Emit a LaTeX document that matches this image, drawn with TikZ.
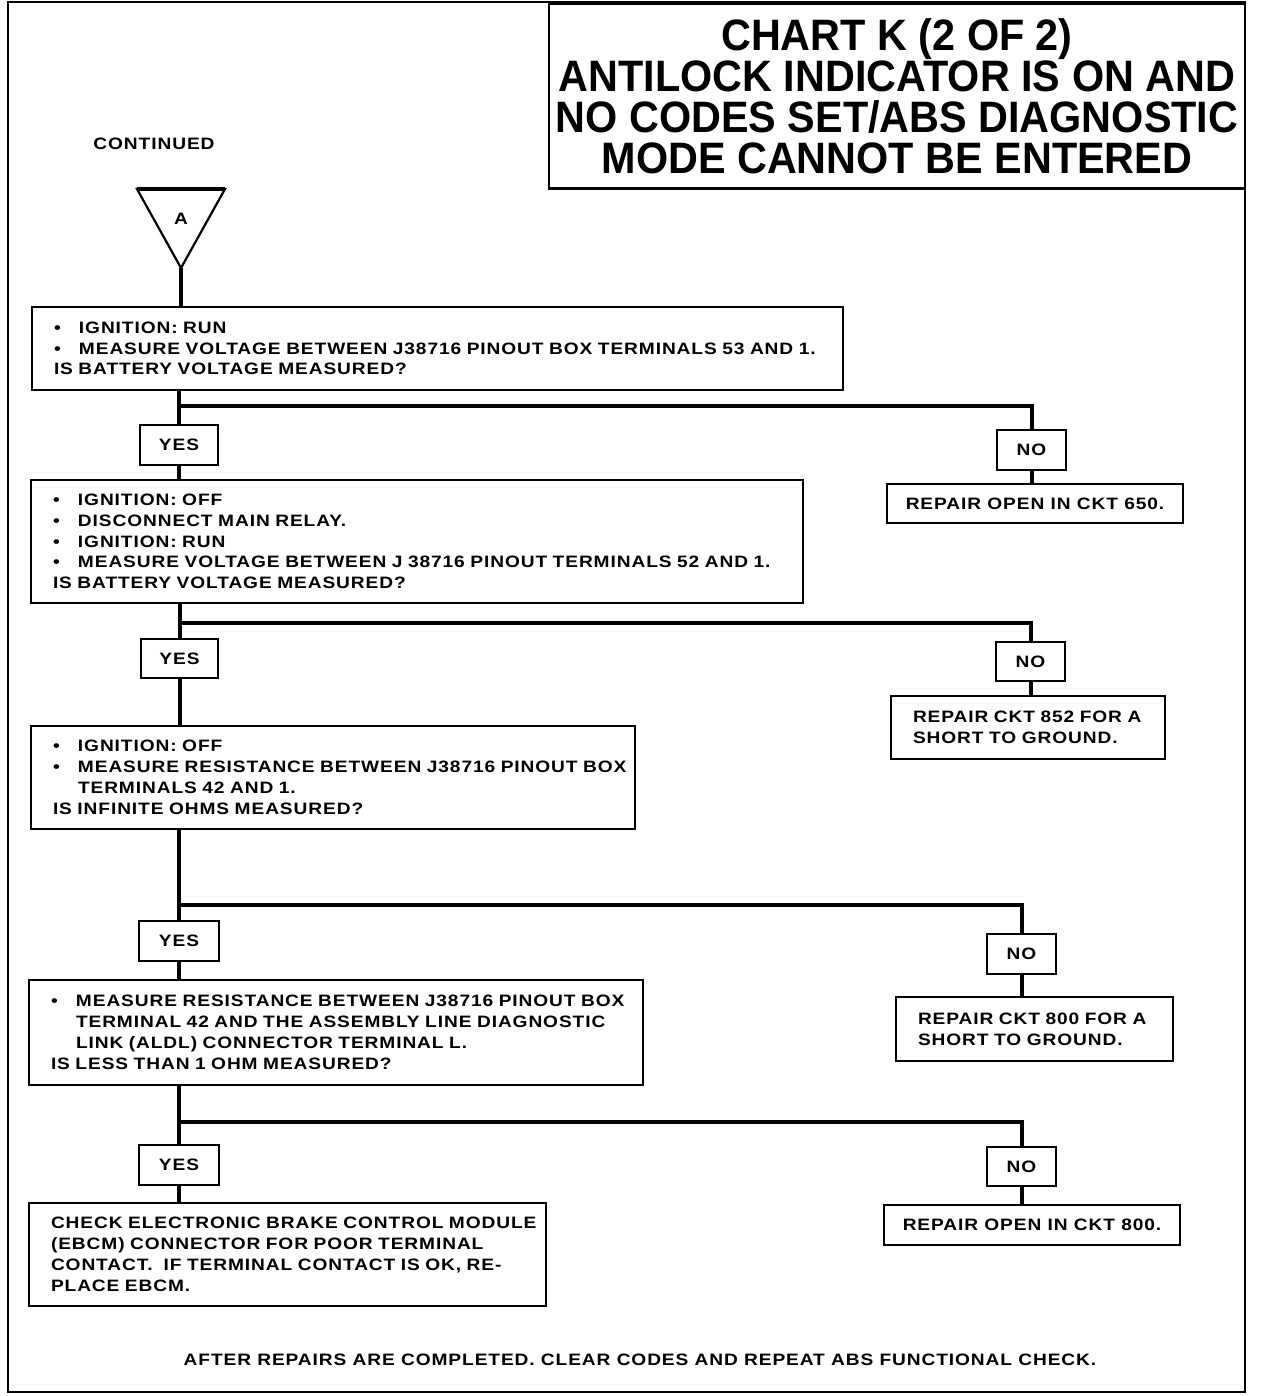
\documentclass[tikz,border=0pt]{standalone}
\usepackage{fontspec}
\setmainfont{Liberation Sans}
\newfontfamily\bodyfont{Liberation Sans}[UprightFont=* Bold, FakeStretch=1.16, LetterSpace=5.5]
\newfontfamily\titlefont{Liberation Sans}[UprightFont=* Bold, FakeStretch=0.94]
\newcommand\bul{\makebox[25pt][l]{\textbullet}}
\newcommand\ind{\hspace*{25pt}}
\newcommand\lyne[1]{\mbox{#1}}
\tikzset{
  bodytxt/.style={font=\bodyfont\fontsize{16.5}{20.8}\selectfont},
  stepbox/.style={draw, line width=2.2pt, inner xsep=22pt, inner ysep=0pt, align=left, bodytxt},
  repbox/.style={draw, line width=2.2pt, inner xsep=10pt, inner ysep=0pt, align=center, bodytxt},
  ansbox/.style={draw, line width=2.2pt, inner sep=0pt, bodytxt},
  conn/.style={line width=4pt},
  frame/.style={line width=2.5pt}
}
\begin{document}
\begin{tikzpicture}[x=1pt,y=-1pt]
\useasboundingbox (0,0) rectangle (1264,1396);
% outer frame and title box
\draw[frame] (8,2) rectangle (1245,1392);
\node[draw, line width=2.2pt, minimum width=696pt, minimum height=185pt, inner sep=0pt, align=center,
      font=\titlefont\fontsize{44}{41}\selectfont] (title) at (897,96)
  {CHART K (2 OF 2)\\ANTILOCK INDICATOR IS ON AND\\NO CODES SET/ABS DIAGNOSTIC\\MODE CANNOT BE ENTERED};
\node[bodytxt] (cont) at (154,144) {CONTINUED};
% triangle A
\draw[line width=2.2pt, line join=miter] (137,189) -- (225,189) -- (181,268) -- cycle;
\draw[line width=4pt] (137,189) -- (225,189);
\node[bodytxt] (A) at (181,219) {A};
\coordinate (tip) at (181,268);

% boxes
\node[stepbox, text width=767pt, minimum height=83pt] (b1) at (437.5,348.5)
  {\lyne{\bul IGNITION: RUN}\\
   \lyne{\bul MEASURE VOLTAGE BETWEEN J38716 PINOUT BOX TERMINALS 53 AND 1.}\\
   \lyne{IS BATTERY VOLTAGE MEASURED?}};
\node[stepbox, text width=728pt, minimum height=123pt] (b2) at (417,541.5)
  {\lyne{\bul IGNITION: OFF}\\
   \lyne{\bul DISCONNECT MAIN RELAY.}\\
   \lyne{\bul IGNITION: RUN}\\
   \lyne{\bul MEASURE VOLTAGE BETWEEN J 38716 PINOUT TERMINALS 52 AND 1.}\\
   \lyne{IS BATTERY VOLTAGE MEASURED?}};
\node[stepbox, text width=560pt, minimum height=103pt] (b3) at (333,777.5)
  {\lyne{\bul IGNITION: OFF}\\
   \lyne{\bul MEASURE RESISTANCE BETWEEN J38716 PINOUT BOX}\\
   \lyne{\ind TERMINALS 42 AND 1.}\\
   \lyne{IS INFINITE OHMS MEASURED?}};
\node[stepbox, text width=570pt, minimum height=105pt] (b4) at (336,1032.5)
  {\lyne{\bul MEASURE RESISTANCE BETWEEN J38716 PINOUT BOX}\\
   \lyne{\ind TERMINAL 42 AND THE ASSEMBLY LINE DIAGNOSTIC}\\
   \lyne{\ind LINK (ALDL) CONNECTOR TERMINAL L.}\\
   \lyne{IS LESS THAN 1 OHM MEASURED?}};
\node[stepbox, text width=473pt, minimum height=103pt] (b5) at (287.5,1254.5)
  {\lyne{CHECK ELECTRONIC BRAKE CONTROL MODULE}\\
   \lyne{(EBCM) CONNECTOR FOR POOR TERMINAL}\\
   \lyne{CONTACT.\ \ IF TERMINAL CONTACT IS OK, RE-}\\
   \lyne{PLACE EBCM.}};

% repair boxes
\node[repbox, minimum width=296pt, minimum height=39pt] (r1) at (1035,503.5) {REPAIR OPEN IN CKT 650.};
\node[stepbox, text width=230pt, minimum height=63pt] (r2) at (1028,727.5) {\lyne{REPAIR CKT 852 FOR A}\\\lyne{SHORT TO GROUND.}};
\node[stepbox, text width=233pt, minimum height=64pt] (r3) at (1034.5,1029) {\lyne{REPAIR CKT 800 FOR A}\\\lyne{SHORT TO GROUND.}};
\node[repbox, minimum width=296pt, minimum height=40pt] (r4) at (1032,1225) {REPAIR OPEN IN CKT 800.};

% answer boxes
\node[ansbox, minimum width=78pt, minimum height=40pt] (y1) at (179,445) {YES};
\node[ansbox, minimum width=77pt, minimum height=39pt] (y2) at (179.5,658.5) {YES};
\node[ansbox, minimum width=80pt, minimum height=40pt] (y3) at (179,941) {YES};
\node[ansbox, minimum width=80pt, minimum height=40pt] (y4) at (179,1165) {YES};
\node[ansbox, minimum width=69pt, minimum height=40pt] (n1) at (1031.5,450) {NO};
\node[ansbox, minimum width=69pt, minimum height=39pt] (n2) at (1030.5,661.5) {NO};
\node[ansbox, minimum width=69pt, minimum height=40pt] (n3) at (1021.5,954) {NO};
\node[ansbox, minimum width=69pt, minimum height=39pt] (n4) at (1021.5,1166.5) {NO};

% junctions
\coordinate (j1) at (179,406);
\coordinate (j2) at (179,623);
\coordinate (j3) at (179,905);
\coordinate (j4) at (179,1122);

% connectors
\draw[conn] (tip) -- (tip |- b1.north);
\draw[conn] (y1.north |- b1.south) -- (y1.north);
\draw[conn] (j1) -| (n1.north);
\draw[conn] (y1.south) -- (y1.south |- b2.north);
\draw[conn] (n1.south) -- (n1.south |- r1.north);

\draw[conn] (y2.north |- b2.south) -- (y2.north);
\draw[conn] (j2) -| (n2.north);
\draw[conn] (y2.south) -- (y2.south |- b3.north);
\draw[conn] (n2.south) -- (n2.south |- r2.north);

\draw[conn] (y3.north |- b3.south) -- (y3.north);
\draw[conn] (j3) -| (n3.north);
\draw[conn] (y3.south) -- (y3.south |- b4.north);
\draw[conn] (n3.south) -- (n3.south |- r3.north);

\draw[conn] (y4.north |- b4.south) -- (y4.north);
\draw[conn] (j4) -| (n4.north);
\draw[conn] (y4.south) -- (y4.south |- b5.north);
\draw[conn] (n4.south) -- (n4.south |- r4.north);

% footer
\node[bodytxt] (foot) at (640,1360) {AFTER REPAIRS ARE COMPLETED. CLEAR CODES AND REPEAT ABS FUNCTIONAL CHECK.};
\end{tikzpicture}
\end{document}
